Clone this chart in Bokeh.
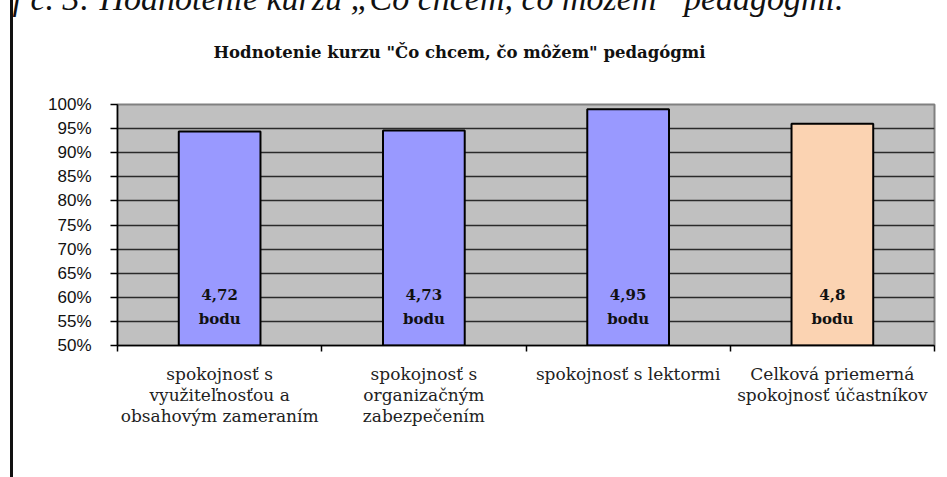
from bokeh.plotting import figure
from bokeh.models import Range1d, FixedTicker, Title, ColumnDataSource
from bokeh.core.properties import value
from bokeh.embed import file_html
from bokeh.resources import INLINE

# ---- data ----
categories = [
    "spokojnosť s\nvyužiteľnosťou a\nobsahovým zameraním",
    "spokojnosť s\norganizačným\nzabezpečením",
    "spokojnosť s lektormi",
    "Celková priemerná\nspokojnosť účastníkov",
]
satisfaction_pct = [94.4, 94.6, 99.0, 96.0]
points_text = ["4,72", "4,73", "4,95", "4,8"]
points_unit = "bodu"
bar_colors = ["#9999FF", "#9999FF", "#9999FF", "#FBD3B2"]
y_ticks = [50, 55, 60, 65, 70, 75, 80, 85, 90, 95, 100]
y_tick_labels = ["50%", "55%", "60%", "65%", "70%", "75%", "80%", "85%", "90%", "95%", "100%"]
chart_title = 'Hodnotenie kurzu "Čo chcem, čo môžem" pedagógmi'
caption = "Graf č. 3: Hodnotenie kurzu „Čo chcem, čo môžem“ pedagógmi."

SHIFT = 3  # top strip hidden above the window, so the caption is cut like in the scan
W, H = 934, 477 + SHIFT
p = figure(width=W, height=H, output_backend="svg", toolbar_location=None, title=None,
           x_range=Range1d(0, len(categories)), y_range=Range1d(50, 100),
           min_border_left=104, min_border_right=13, min_border_top=0, min_border_bottom=132)
p.styles = {"border-left": "3px solid #111111", "margin-left": "10px",
            "margin-top": f"-{SHIFT}px"}

p.background_fill_color = "#C0C0C0"
p.border_fill_color = "white"
p.outline_line_color = "#808080"
p.outline_line_width = 2

centers = [i + 0.5 for i in range(len(categories))]
src = ColumnDataSource(dict(
    x=centers, top=satisfaction_pct, color=bar_colors,
    lab=[f"{t}\n{points_unit}" for t in points_text],
    ly=[58.0] * len(categories),
))
p.vbar(x="x", top="top", bottom=50, width=0.4, fill_color="color",
       line_color="black", line_width=2, source=src)
p.text(x="x", y="ly", text="lab", source=src, text_align="center", text_baseline="middle",
       text_font=value("DejaVu Serif"), text_font_style="bold", text_font_size="15px",
       text_line_height=1.3, text_color="#111111")

# y axis
p.yaxis.ticker = FixedTicker(ticks=y_ticks)
p.yaxis.major_label_overrides = {t: l for t, l in zip(y_ticks, y_tick_labels)}
p.yaxis.major_label_text_font = "Liberation Sans"
p.yaxis.major_label_text_font_size = "17px"
p.yaxis.major_label_text_color = "#111111"
p.yaxis.major_label_standoff = 19
p.yaxis.major_tick_out = 7
p.yaxis.major_tick_in = 0
p.yaxis.minor_tick_line_color = None
p.yaxis.axis_line_color = "black"
p.yaxis.axis_line_width = 1.5
p.yaxis.major_tick_line_width = 1.5

# x axis: labels at bar centres, ticks at category boundaries
p.xaxis.ticker = FixedTicker(ticks=centers, minor_ticks=list(range(len(categories) + 1)))
p.xaxis.major_label_overrides = {c: l for c, l in zip(centers, categories)}
p.xaxis.major_tick_line_color = None
p.xaxis.minor_tick_out = 6
p.xaxis.minor_tick_in = 0
p.xaxis.minor_tick_line_color = "black"
p.xaxis.minor_tick_line_width = 1.5
p.xaxis.axis_line_color = "black"
p.xaxis.axis_line_width = 1.5
p.xaxis.major_label_text_font = "DejaVu Serif"
p.xaxis.major_label_text_font_size = "17px"
p.xaxis.major_label_text_color = "#222222"
p.xaxis.major_label_standoff = 12
p.xaxis.major_label_text_line_height = 1.05

p.xgrid.grid_line_color = None
p.ygrid.ticker = FixedTicker(ticks=y_ticks)
p.ygrid.grid_line_color = "#2a2a2a"
p.ygrid.grid_line_width = 1.3

# chart title (closest to the frame)
p.add_layout(Title(text=chart_title, align="left", offset=96, standoff=86,
                   text_font="DejaVu Serif", text_font_style="bold",
                   text_font_size="16.5px", text_color="#111111",
                   text_line_height=2.07), "above")
# caption (outermost, partly cut off at the top edge)
p.add_layout(Title(text=caption, align="right", offset=91, standoff=-39,
                   text_font="Liberation Serif", text_font_style="italic",
                   text_font_size="34px", text_color="#111111",
                   text_line_height=0.51), "above")

open("out.html", "w").write(file_html(p, INLINE))
